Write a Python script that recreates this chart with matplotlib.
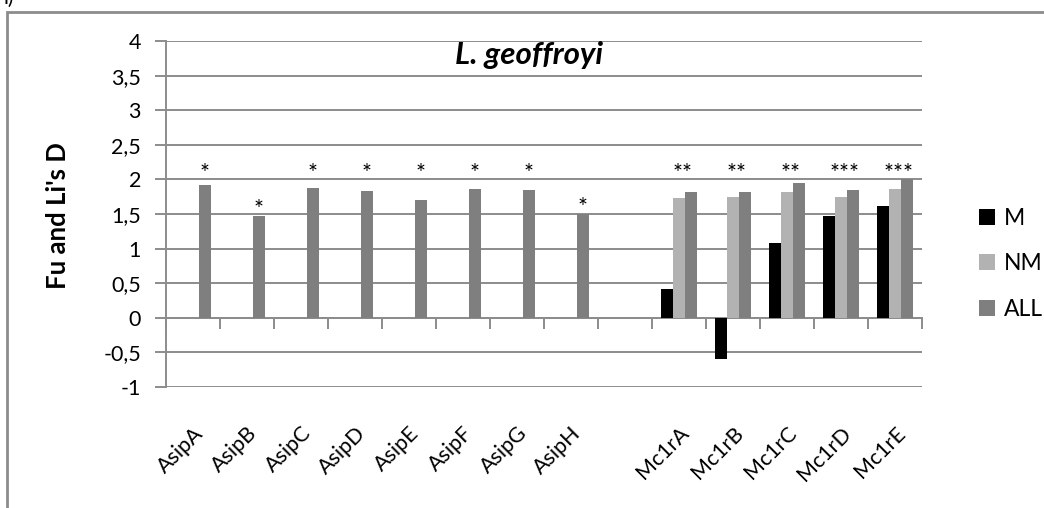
import numpy as np
import matplotlib
matplotlib.use("Agg")
import matplotlib.pyplot as plt
from matplotlib.patches import Rectangle

plt.rcParams['font.family'] = ['Lato', 'DejaVu Sans']

# data
categories = ['AsipA', 'AsipB', 'AsipC', 'AsipD', 'AsipE', 'AsipF', 'AsipG', 'AsipH', '',
              'Mc1rA', 'Mc1rB', 'Mc1rC', 'Mc1rD', 'Mc1rE']
M = [np.nan] * 9 + [0.42, -0.60, 1.08, 1.47, 1.62]
NM = [np.nan] * 9 + [1.73, 1.74, 1.82, 1.75, 1.86]
ALL = [1.92, 1.47, 1.88, 1.83, 1.70, 1.86, 1.85, 1.50, np.nan,
       1.82, 1.82, 1.95, 1.84, 2.00]
stars = ['*', '*', '*', '*', '*', '*', '*', '*', '', '**', '**', '**', '***', '***']

grid_col = '#8c8c8c'

fig = plt.figure(figsize=(10.44, 5.08), dpi=100)
ax = fig.add_axes([166 / 1044, 121 / 508, 756 / 1044, 346 / 508])

x = np.arange(len(categories))
w = 0.22
ax.bar(x - w, M, w, color='black', label='M', zorder=3)
ax.bar(x, NM, w, color='#b2b2b2', label='NM', zorder=3)
ax.bar(x + w, ALL, w, color='#7f7f7f', label='ALL', zorder=3)

ax.set_xlim(-0.5, len(categories) - 0.5)
ax.set_ylim(-1, 4)
yt = np.arange(-1, 4.01, 0.5)
ax.set_yticks(yt)
ax.set_yticklabels([f"{v:g}".replace('.', ',') for v in yt], fontsize=15.5)
ax.yaxis.grid(True, color=grid_col, lw=1.4)
ax.set_axisbelow(True)

for s in ['top', 'right', 'bottom']:
    ax.spines[s].set_visible(False)
ax.spines['left'].set_color(grid_col)
ax.spines['left'].set_linewidth(1.4)
ax.tick_params(axis='y', length=8, color=grid_col, width=1.4, pad=10)

ax.set_xticks(x)
ax.set_xticklabels(categories, rotation=45, ha='right', rotation_mode='anchor', fontsize=15.5)
ax.tick_params(axis='x', length=0, pad=26)

# category axis crossing at zero, tick marks between categories
sec = ax.secondary_xaxis(0.2)
sec.set_xticks(np.arange(-0.5, len(categories), 1))
sec.tick_params(length=8, color=grid_col, width=1.4, labelbottom=False)
sec.spines['bottom'].set_color(grid_col)
sec.spines['bottom'].set_linewidth(1.4)

# significance marks
for i, s in enumerate(stars):
    if not s:
        continue
    top = np.nanmax([M[i], NM[i], ALL[i]])
    y = 2.2 if top >= 1.6 else top + 0.22
    xpos = x[i] + (w if len(s) == 1 else 0.06)
    ax.text(xpos, y - 0.12, s, ha='center', va='center', fontsize=17)

fig.text(529 / 1044, 1 - 55 / 508, 'L. geoffroyi', ha='center', va='center',
         fontsize=22.5, fontweight='bold', style='italic')
fig.text(58 / 1044, 1 - 216 / 508, "Fu and Li's D", ha='center', va='center',
         rotation=90, fontsize=18.5, fontweight='bold')

ax.legend(loc='center left', bbox_to_anchor=(958 / 1044, 1 - 264 / 508),
          bbox_transform=fig.transFigure, frameon=False, fontsize=16.5,
          handlelength=0.7, handleheight=0.7, handletextpad=0.4, labelspacing=1.05)

fig.add_artist(Rectangle((7 / 1044, -0.1), 1.2, 1.1 - 12 / 508, transform=fig.transFigure,
                         fill=False, ec=grid_col, lw=2))
fig.text(4 / 1044, 1 - 4 / 508, 'i)', va='baseline', fontsize=15)

fig.savefig('out.png', dpi=100)
